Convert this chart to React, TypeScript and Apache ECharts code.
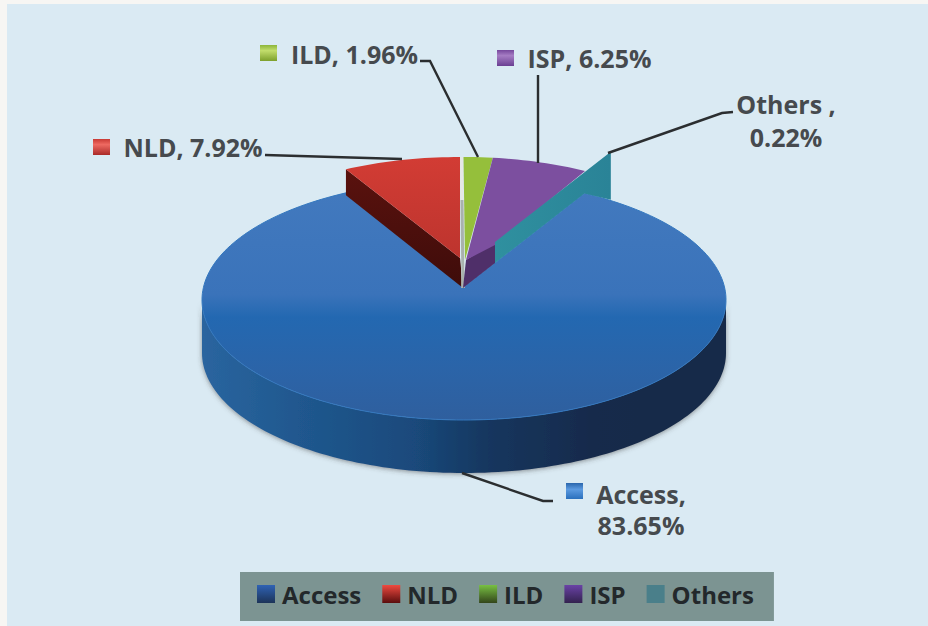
import React, { useEffect, useRef } from "react";
import * as echarts from "echarts";

const categories = ["Access", "NLD", "ILD", "ISP", "Others"];
const shares = [83.65, 7.92, 1.96, 6.25, 0.22];
const labelLines = [["Access,", "83.65%"], ["NLD, 7.92%"], ["ILD, 1.96%"], ["ISP, 6.25%"], ["Others ,", "0.22%"]];

const FONT = '"Open Sans", "Noto Sans", sans-serif';
const TEXT = "#464a4e";
const DEG = Math.PI / 180;
const total = shares.reduce((a, b) => a + b, 0);
const ORIGIN_OFFSET = shares[0] + shares[1]; // ILD starts at twelve o'clock

function angleRange(i: number): [number, number] {
  let c = -ORIGIN_OFFSET;
  for (let k = 0; k < i; k++) c += shares[k];
  return [(c / total) * 360, ((c + shares[i]) / total) * 360];
}

// Large disc (Access) and raised disc (the four small slices)
const BIG = { cx: 464, cy: 300, rx: 262, ry: 120 };
const BIG_APEX: [number, number] = [463, 288];
const DEPTH = 53;
const SMALL = { cy: 258, rx: 239, ry: 101 };

const pt = (e: { cx: number; cy: number; rx: number; ry: number }, deg: number, k = 1): [number, number] => [
  e.cx + e.rx * k * Math.sin(deg * DEG),
  e.cy - e.ry * k * Math.cos(deg * DEG),
];
function arc(e: any, a: number, b: number, dy = 0): [number, number][] {
  const out: [number, number][] = [];
  const n = Math.max(4, Math.ceil(Math.abs(b - a) / 1.5));
  for (let i = 0; i <= n; i++) {
    const p = pt(e, a + ((b - a) * i) / n);
    out.push([p[0], p[1] + dy]);
  }
  return out;
}
const lin = (x2: number, y2: number, stops: [number, string][]) => ({
  type: "linear", x: 0, y: 0, x2, y2,
  colorStops: stops.map(([offset, color]) => ({ offset, color })),
});
const poly = (points: number[][], fill: any, extra: any = {}) => ({
  type: "polygon", shape: { points }, style: { fill, ...extra },
});

const PAD = 3; // the blue sector tucks slightly under its neighbours' walls

function renderSlice(params: any) {
  const i = params.seriesIndex;
  const [a, b] = angleRange(i);
  const children: any[] = [];
  if (i === 0) {
    const front = [...arc(BIG, 90, 270), ...arc(BIG, 270, 90, DEPTH)];
    children.push(
      poly(front, lin(1, 0, [
        [0, "#2a659f"], [0.18, "#20588f"], [0.4, "#1a4a7c"], [0.55, "#16365e"],
        [0.75, "#132a4b"], [1, "#132a48"],
      ]), { shadowBlur: 5, shadowColor: "rgba(60,60,60,0.55)", shadowOffsetY: 1 })
    );
    const top = [BIG_APEX, ...arc(BIG, a - PAD, b + PAD)];
    children.push(
      poly(top, lin(0, 1, [
        [0, "#4279be"], [0.45, "#3a73ba"], [0.55, "#2368b1"], [0.78, "#2b64a8"], [1, "#2f5f9e"],
      ]), { stroke: "#3478bf", lineWidth: 1 })
    );
  } else if (i === 1) {
    const e = { ...SMALL, cx: 460 };
    const c = pt(e, a);
    children.push(
      poly([c, [c[0], c[1] + 26], BIG_APEX, [460, SMALL.cy]], lin(0, 1, [[0, "#5a120e"], [1, "#3e0c0a"]]))
    );
    children.push(poly([[460, SMALL.cy], ...arc(e, a, b)], lin(0, 1, [[0, "#d23c34"], [1, "#bd342e"]])));
    children.push({
      type: "line",
      shape: { x1: 461.5, y1: SMALL.cy - SMALL.ry, x2: 463, y2: BIG_APEX[1] },
      style: { stroke: "#e6e8e6", lineWidth: 3 },
    });
    children.push({
      type: "line",
      shape: { x1: 462, y1: 200, x2: 463, y2: BIG_APEX[1] },
      style: { stroke: "#a9b2ae", lineWidth: 3 },
    });
  } else if (i === 2) {
    const e = { ...SMALL, cx: 463.5 };
    children.push(poly([[465, 260], ...arc(e, a, b)], "#95bf3b"));
  } else if (i === 3) {
    const e = { ...SMALL, cx: 463.5 };
    children.push(poly([[466, 260], [495, 242], [495, 263], BIG_APEX], "#4f2f69"));
    children.push(poly([[466, 260], [495, 245], ...arc(e, b + 1, a)].reverse(), "#7c4f9f"));
  } else {
    const e = { ...SMALL, cx: 463.5 };
    const outer = pt(e, b, 1.22);
    const rim = pt(BIG, b - PAD);
    children.push(
      poly(
        [[495, 242], outer, [outer[0], outer[1] + 48], rim, [495, 263]],
        lin(1, 0, [[0, "#2f909f"], [1, "#2a8397"]])
      )
    );
  }
  return { type: "group", children };
}

const legendFills = [
  lin(0, 1, [[0, "#2f62b4"], [1, "#1c3358"]]),
  lin(0, 1, [[0, "#ef4a40"], [1, "#5a0d0d"]]),
  lin(0, 1, [[0, "#78c043"], [1, "#33451a"]]),
  lin(0, 1, [[0, "#6a42a6"], [1, "#33224f"]]),
  "#4a7f8a",
];
const markerFills = [
  lin(0, 1, [[0, "#2a66ac"], [0.4, "#5b9ae0"], [1, "#2a70bd"]]),
  lin(0, 1, [[0, "#c93a34"], [0.35, "#ee6a62"], [1, "#a92a28"]]),
  lin(0, 1, [[0, "#8cb53a"], [0.35, "#c2dd6c"], [1, "#7da02c"]]),
  lin(0, 1, [[0, "#76489c"], [0.35, "#a67dc4"], [1, "#6a3f92"]]),
];

// text anchors, marker corners and leader elbows for each category
const markerBoxes: Record<number, number[]> = { 0: [566, 483], 1: [93, 139], 2: [260, 45], 3: [497, 50] };
const leaders = [
  [[462, 473], [543, 501], [553, 501]],
  [[265, 155], [402, 159]],
  [[420, 61], [430, 61], [478, 157]],
  [[538, 75], [538, 163]],
  [[733, 112], [722, 113], [608, 153]],
];
const labelAnchors = [
  [[641, 494], [641, 525]],
  [[193, 147]],
  [[354.5, 54]],
  [[589.5, 58]],
  [[786, 104], [786, 137]],
];

function App() {
  const ref = useRef<HTMLDivElement>(null);
  useEffect(() => {
    document.body.style.margin = "0";
    const chart = echarts.init(ref.current!, undefined, { renderer: "svg" });
    const graphic: any[] = [
      { type: "rect", z: 0, shape: { x: 7, y: 4, width: 921, height: 622 }, style: { fill: "#daeaf3" } },
    ];
    leaders.forEach((points) =>
      graphic.push({ type: "polyline", z: 10, shape: { points }, style: { stroke: "#2b2e30", lineWidth: 2.4, fill: "none" } })
    );
    Object.keys(markerBoxes).forEach((k) => {
      const i = Number(k);
      graphic.push({
        type: "rect", z: 10, shape: { x: markerBoxes[i][0], y: markerBoxes[i][1], width: 17, height: 16 },
        style: { fill: markerFills[i] },
      });
    });
    labelLines.forEach((lines, i) =>
      lines.forEach((t, j) =>
        graphic.push({
          type: "text", z: 10, x: labelAnchors[i][j][0], y: labelAnchors[i][j][1],
          style: { text: t, font: `700 25px ${FONT}`, fill: TEXT, align: "center", verticalAlign: "middle" },
        })
      )
    );
    chart.setOption({
      animation: false,
      backgroundColor: "#f7f6f3",
      graphic,
      legend: {
        left: 240, top: 572, padding: [10, 20, 15, 17], itemWidth: 18, itemHeight: 18, itemGap: 21,
        backgroundColor: "#7c9492", selectedMode: false, icon: "rect",
        textStyle: { fontFamily: FONT, fontWeight: 700, fontSize: 24, color: "#23282b", padding: [0, 0, 0, 2] },
        data: categories.map((name, i) => ({ name, itemStyle: { color: legendFills[i] } })),
      },
      series: categories.map((name, i) => ({
        type: "custom", name, coordinateSystem: "none", silent: true,
        itemStyle: { color: typeof legendFills[i] === "string" ? legendFills[i] : "#2a66ac" },
        data: [shares[i]], renderItem: renderSlice, z: 2 + i,
      })),
    });
    return () => chart.dispose();
  }, []);
  return <div ref={ref} style={{ width: 928, height: 626 }} />;
}
export default App;
